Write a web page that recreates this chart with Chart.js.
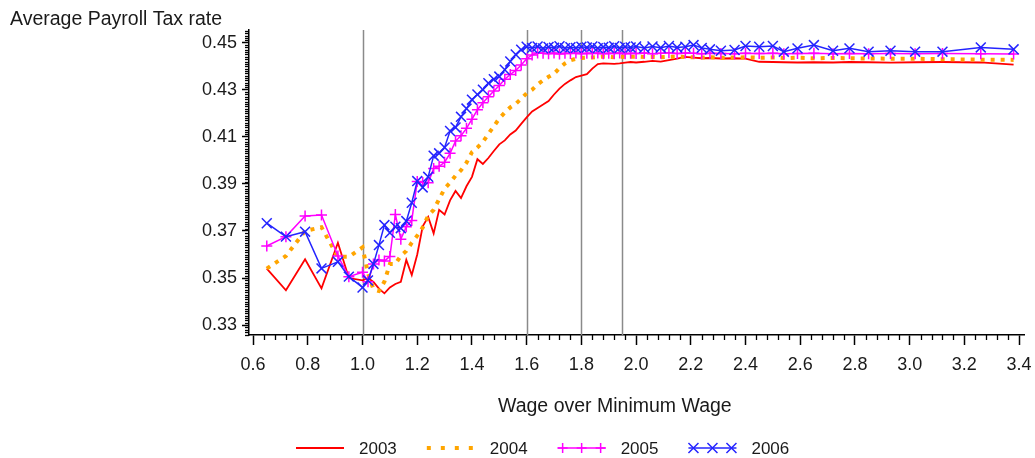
<!DOCTYPE html>
<html><head><meta charset="utf-8">
<script src="https://cdn.jsdelivr.net/npm/chart.js@4/dist/chart.umd.min.js"></script>
<style>html,body{margin:0;padding:0;background:#fff}#wrap{width:1035px;height:458px;position:relative}</style>
</head><body><div id="wrap"><canvas id="c" width="1035" height="458"></canvas></div>
<script>
// ---- data ----
const wageRatio = [0.65,0.72,0.79,0.85,0.91,0.95,1.00,1.02,1.04,1.06,1.08,1.10,1.12,1.14,1.16,1.18,1.20,1.22,1.24,1.26,1.28,1.30,1.32,1.34,1.36,1.38,1.40,1.42,1.44,1.46,1.48,1.50,1.52,1.54,1.56,1.58,1.60,1.62,1.64,1.66,1.68,1.70,1.72,1.74,1.76,1.78,1.80,1.82,1.84,1.86,1.88,1.90,1.92,1.94,1.96,1.98,2.00,2.03,2.06,2.09,2.12,2.15,2.18,2.21,2.24,2.27,2.31,2.36,2.40,2.45,2.50,2.54,2.59,2.65,2.72,2.78,2.85,2.93,3.02,3.12,3.26,3.38];

const rate2003 = [0.3540,0.3448,0.3580,0.3456,0.3650,0.3500,0.3490,0.3500,0.3484,0.3455,0.3435,0.3460,0.3475,0.3484,0.3577,0.3513,0.3600,0.3720,0.3760,0.3690,0.3790,0.3770,0.3830,0.3870,0.3840,0.3890,0.3930,0.4005,0.3985,0.4010,0.4040,0.4068,0.4085,0.4110,0.4127,0.4155,0.4183,0.4208,0.4223,0.4237,0.4252,0.4280,0.4305,0.4325,0.4340,0.4354,0.4360,0.4366,0.4390,0.4409,0.4412,0.4411,0.4410,0.4412,0.4415,0.4418,0.4416,0.4419,0.4423,0.4420,0.4426,0.4432,0.4440,0.4437,0.4434,0.4435,0.4433,0.4434,0.4432,0.4419,0.4418,0.4417,0.4416,0.4417,0.4416,0.4418,0.4417,0.4415,0.4417,0.4418,0.4416,0.4407];

const rate2004 = [0.3540,0.3594,0.3700,0.3716,0.3590,0.3590,0.3630,0.3520,0.3452,0.3445,0.3485,0.3560,0.3560,0.3595,0.3615,0.3650,0.3680,0.3715,0.3765,0.3790,0.3835,0.3880,0.3905,0.3935,0.3958,0.3990,0.4035,0.4055,0.4078,0.4112,0.4145,0.4178,0.4203,0.4225,0.4240,0.4262,0.4285,0.4300,0.4323,0.4340,0.4355,0.4368,0.4392,0.4412,0.4425,0.4432,0.4435,0.4436,0.4437,0.4439,0.4441,0.4440,0.4438,0.4441,0.4439,0.4440,0.4441,0.4439,0.4440,0.4438,0.4440,0.4441,0.4439,0.4438,0.4437,0.4438,0.4436,0.4437,0.4438,0.4436,0.4437,0.4435,0.4436,0.4434,0.4435,0.4434,0.4433,0.4432,0.4432,0.4430,0.4428,0.4427];

const rate2005 = [0.3636,0.3676,0.3764,0.3768,0.3594,0.3506,0.3525,0.3484,0.3560,0.3577,0.3572,0.3592,0.3770,0.3665,0.3718,0.3745,0.3910,0.3906,0.3905,0.3965,0.3975,0.3992,0.4030,0.4082,0.4105,0.4136,0.4175,0.4215,0.4245,0.4270,0.4295,0.4318,0.4345,0.4365,0.4382,0.4405,0.4432,0.4448,0.4456,0.4455,0.4453,0.4456,0.4452,0.4455,0.4454,0.4456,0.4453,0.4455,0.4454,0.4456,0.4453,0.4455,0.4454,0.4456,0.4453,0.4455,0.4454,0.4456,0.4453,0.4455,0.4457,0.4454,0.4456,0.4455,0.4453,0.4455,0.4454,0.4453,0.4455,0.4454,0.4455,0.4453,0.4454,0.4455,0.4453,0.4454,0.4453,0.4454,0.4453,0.4454,0.4453,0.4452];

const rate2006 = [0.3733,0.3676,0.3697,0.3541,0.3569,0.3506,0.3460,0.3490,0.3560,0.3640,0.3725,0.3692,0.3718,0.3712,0.3742,0.3820,0.3912,0.3885,0.3930,0.4020,0.4030,0.4055,0.4125,0.4140,0.4185,0.4220,0.4258,0.4280,0.4300,0.4328,0.4345,0.4356,0.4385,0.4420,0.4450,0.4470,0.4483,0.4478,0.4484,0.4476,0.4482,0.4479,0.4485,0.4477,0.4481,0.4478,0.4483,0.4480,0.4484,0.4477,0.4482,0.4479,0.4485,0.4478,0.4483,0.4480,0.4484,0.4478,0.4484,0.4479,0.4486,0.4480,0.4483,0.4490,0.4478,0.4472,0.4466,0.4469,0.4486,0.4483,0.4486,0.4462,0.4476,0.4490,0.4466,0.4476,0.4462,0.4466,0.4462,0.4462,0.4480,0.4472];

const seriesNames = ['2003','2004','2005','2006'];
const xTicks = [0.6,0.8,1.0,1.2,1.4,1.6,1.8,2.0,2.2,2.4,2.6,2.8,3.0,3.2,3.4];
const yTicks = [0.33,0.35,0.37,0.39,0.41,0.43,0.45];
const refLines = [1.0,1.6,1.8,1.95];
const yTitle = 'Average Payroll Tax rate';
const xTitle = 'Wage over Minimum Wage';

// ---- chart ----
const FONT = "'Liberation Sans', Arial, Helvetica, sans-serif";
Chart.defaults.font.family = FONT;
const toPts = ys => wageRatio.map((x,i)=>({x:x,y:ys[i]}));

const COLORS = {r:'#ff0000', o:'#ffa500', m:'#ff00ff', b:'#2424ff'};

const decor = {
  id:'decor',
  beforeDatasetsDraw(chart){
    const {ctx, chartArea:a, scales:{x}} = chart;
    ctx.save();
    ctx.strokeStyle = '#8a8a8a'; ctx.lineWidth = 1.5;
    refLines.forEach(v=>{
      const px = Math.round(x.getPixelForValue(v))+0.5;
      ctx.beginPath(); ctx.moveTo(px,a.top); ctx.lineTo(px,a.bottom); ctx.stroke();
    });
    ctx.restore();
  },
  afterDraw(chart){
    const {ctx, chartArea:a, scales:{x,y}} = chart;
    ctx.save();
    // minor ticks
    ctx.strokeStyle = '#000'; ctx.lineWidth = 1.3;
    for(let i=15;i<=85;i++){
      if(i%5===0) continue;
      const px = Math.round(x.getPixelForValue(i*0.04))+0.5;
      if(px<a.left||px>a.right) continue;
      ctx.beginPath(); ctx.moveTo(px,a.bottom); ctx.lineTo(px,a.bottom+5); ctx.stroke();
    }
    for(let i=326;i<=455;i++){
      if((i-330)%20===0) continue;
      const py = Math.round(y.getPixelForValue(i/1000))+0.5;
      ctx.beginPath(); ctx.moveTo(a.left-4,py); ctx.lineTo(a.left,py); ctx.stroke();
    }
    // titles
    ctx.fillStyle = '#1a1a1a';
    ctx.textBaseline = 'alphabetic'; ctx.textAlign = 'left';
    ctx.font = '19.5px ' + FONT;
    ctx.fillText(yTitle, 10, 25);
    ctx.fillText(xTitle, 498, 412);
    // legend
    const ly = 448;
    let lx = 296;
    ctx.font = '17px ' + FONT;
    const styles = [
      {c:COLORS.r, w:2, dash:[], mk:null},
      {c:COLORS.o, w:4, dash:[4,10], mk:null},
      {c:COLORS.m, w:1.5, dash:[], mk:'cross'},
      {c:COLORS.b, w:1.5, dash:[], mk:'crossRot'}
    ];
    seriesNames.forEach((name,i)=>{
      const s = styles[i];
      const sw = 48;
      ctx.strokeStyle = s.c; ctx.lineWidth = s.w; ctx.setLineDash(s.dash); ctx.lineCap='butt';
      ctx.beginPath(); ctx.moveTo(lx,ly); ctx.lineTo(lx+sw,ly); ctx.stroke();
      ctx.setLineDash([]);
      if(s.mk){
        [lx+5, lx+24, lx+43].forEach(cx=>{
          ctx.beginPath();
          if(s.mk==='cross'){ ctx.moveTo(cx-5,ly); ctx.lineTo(cx+5,ly); ctx.moveTo(cx,ly-5); ctx.lineTo(cx,ly+5); }
          else { ctx.moveTo(cx-5,ly-5); ctx.lineTo(cx+5,ly+5); ctx.moveTo(cx-5,ly+5); ctx.lineTo(cx+5,ly-5); }
          ctx.stroke();
        });
      }
      ctx.fillStyle = '#1a1a1a';
      ctx.fillText(name, lx+sw+15, 454);
      lx += sw + 15 + ctx.measureText(name).width + 30;
    });
    ctx.restore();
  }
};

new Chart(document.getElementById('c'), {
  type:'line',
  data:{datasets:[
    {label:seriesNames[3], data:toPts(rate2006), borderColor:COLORS.b, backgroundColor:COLORS.b, borderWidth:1.5, pointStyle:'crossRot', pointRadius:7, pointBorderWidth:1.5, pointBorderColor:COLORS.b, tension:0, order:0},
    {label:seriesNames[2], data:toPts(rate2005), borderColor:COLORS.m, backgroundColor:COLORS.m, borderWidth:1.5, pointStyle:'cross', pointRadius:5.5, pointBorderWidth:1.5, pointBorderColor:COLORS.m, tension:0, order:1},
    {label:seriesNames[1], data:toPts(rate2004), borderColor:COLORS.o, borderWidth:4, borderDash:[4,6], borderCapStyle:'butt', pointRadius:0, tension:0, order:2},
    {label:seriesNames[0], data:toPts(rate2003), borderColor:COLORS.r, borderWidth:1.8, pointRadius:0, tension:0, order:3}
  ]},
  options:{
    responsive:false, animation:false, devicePixelRatio:1,
    layout:{padding:{top:30,left:0,right:11,bottom:83}},
    plugins:{legend:{display:false}, tooltip:{enabled:false}, title:{display:false}},
    scales:{
      x:{type:'linear', min:0.585, max:3.418,
        afterBuildTicks:s=>{s.ticks = xTicks.map(v=>({value:v}));},
        afterFit:s=>{s.height = 40; s.paddingLeft = 0; s.paddingRight = 0;},
        ticks:{callback:v=>Number(v).toFixed(1), font:{size:18}, color:'#1a1a1a', padding:9, maxRotation:0, autoSkip:false},
        grid:{display:true, drawOnChartArea:false, drawTicks:true, tickLength:10, tickColor:'#000', tickWidth:1.5},
        border:{display:true, color:'#000', width:1.5}
      },
      y:{type:'linear', min:0.3258, max:0.4554,
        afterBuildTicks:s=>{s.ticks = yTicks.map(v=>({value:v}));},
        afterFit:s=>{s.width = 249; s.paddingTop = 0; s.paddingBottom = 0;},
        ticks:{callback:v=>Number(v).toFixed(2), font:{size:18}, color:'#1a1a1a', padding:5, autoSkip:false},
        grid:{display:true, drawOnChartArea:false, drawTicks:true, tickLength:7, tickColor:'#000', tickWidth:1.5},
        border:{display:true, color:'#000', width:1.5}
      }
    }
  },
  plugins:[decor]
});
</script></body></html>
